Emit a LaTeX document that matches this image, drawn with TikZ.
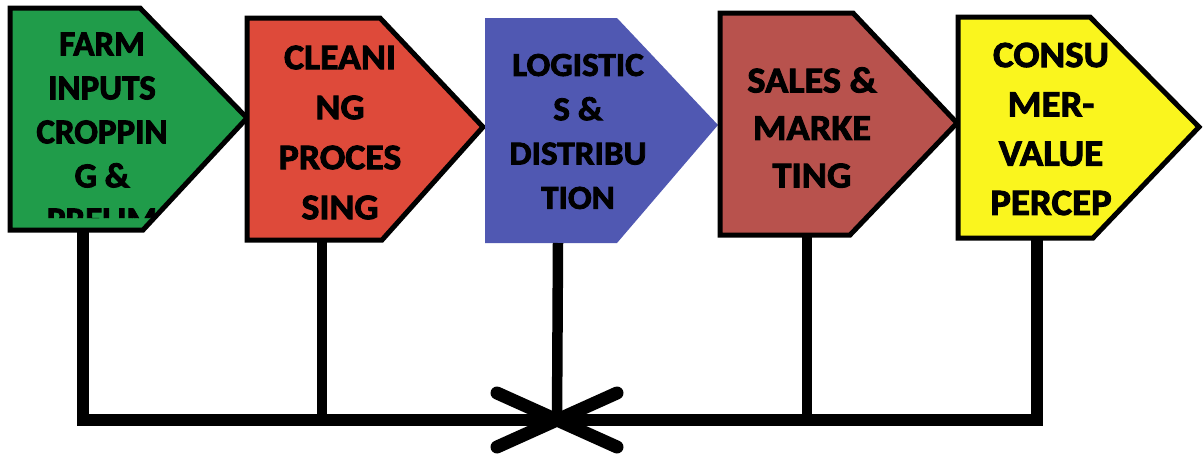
\documentclass[tikz,border=0pt]{standalone}
\usepackage{fontspec}
\setmainfont{Carlito}
\newfontfamily\stagefont{Carlito}[FakeBold=2.5]
\newfontfamily\widefont{Carlito}[FakeStretch=1.05, FakeBold=2.5]
\definecolor{farmgreen}{RGB}{32,156,74}
\definecolor{cleanred}{RGB}{222,74,58}
\definecolor{logblue}{RGB}{80,88,178}
\definecolor{salesbrown}{RGB}{184,82,77}
\definecolor{consyellow}{RGB}{250,245,30}
\begin{document}
\begin{tikzpicture}[x=1pt,y=-1pt,
  stage/.style={draw=black, line width=5pt, line join=miter},
  label/.style={align=center, text=black, inner sep=0pt},
  stem/.style={line width=10.5pt, draw=black},
  bus/.style={line width=12pt, draw=black, line join=miter},
  chev/.style={line width=13pt, draw=black, line cap=round, line join=round}]
\useasboundingbox (0,0) rectangle (1203,455);
\fill[white] (0,0) rectangle (1203,455);

% value-chain stages, left to right
\filldraw[stage, fill=farmgreen]
  (10,8) -- (140,8) -- (247,118) -- (143,230) -- (10,230) -- cycle;
\filldraw[stage, fill=cleanred]
  (247,18) -- (380,18) -- (483,127) -- (382,240) -- (247,240) -- cycle;
\fill[logblue]
  (485,18) -- (617,18) -- (718,125) -- (617,243) -- (485,243) -- cycle;
\filldraw[stage, fill=salesbrown]
  (720,13) -- (853,13) -- (957,123) -- (850,235) -- (720,235) -- cycle;
\filldraw[stage, fill=consyellow]
  (958,17) -- (1090,17) -- (1199,127) -- (1093,238) -- (958,238) -- cycle;

% stage captions
\begin{scope}
  \clip (12,10) -- (140,10) -- (245,118) -- (154,218) -- (12,218) -- cycle;
  \node[label, font=\stagefont\bfseries\fontsize{35}{44}\selectfont] (farm) at (102,132)
    {FARM\\INPUTS\\CROPPIN\\G \&\\PRELIM};
\end{scope}
\node[label, font=\widefont\bfseries\fontsize{36}{50}\selectfont] (clean) at (340,132.5)
  {CLEANI\\NG\\PROCES\\SING};
\node[label, font=\widefont\bfseries\fontsize{33.5}{44.3}\selectfont] (logistics) at (578,131.5)
  {LOGISTIC\\S \&\\DISTRIBU\\TION};
\node[label, font=\widefont\bfseries\fontsize{36.5}{47.5}\selectfont] (sales) at (812,127.5)
  {SALES \&\\MARKE\\TING};
\node[label, font=\widefont\bfseries\fontsize{37}{49.3}\selectfont] (consumer) at (1051,129)
  {CONSU\\MER-\\VALUE\\PERCEP};

% stem tops under each stage and the meeting point on the bus
\coordinate (gtop) at (83,230);
\coordinate (rtop) at (322,240);
\coordinate (ltop) at (558,243);
\coordinate (btop) at (807,235);
\coordinate (ytop) at (1037,238);
\coordinate (hub) at (557,420);

% feedback bus
\draw[bus] (gtop) |- (hub);
\draw[bus] (ytop) |- (hub);
\draw[stem] (rtop) -- (rtop |- hub);
\draw[stem] (btop) -- (btop |- hub);
\draw[stem] (ltop) -- (hub);

% opposing arrow heads meeting at the hub
\draw[chev] (hub) ++(-60,-27) -- (hub) -- ++(-60,27);
\draw[chev] (hub) ++(60,-27) -- (hub) -- ++(60,27);
\end{tikzpicture}
\end{document}
